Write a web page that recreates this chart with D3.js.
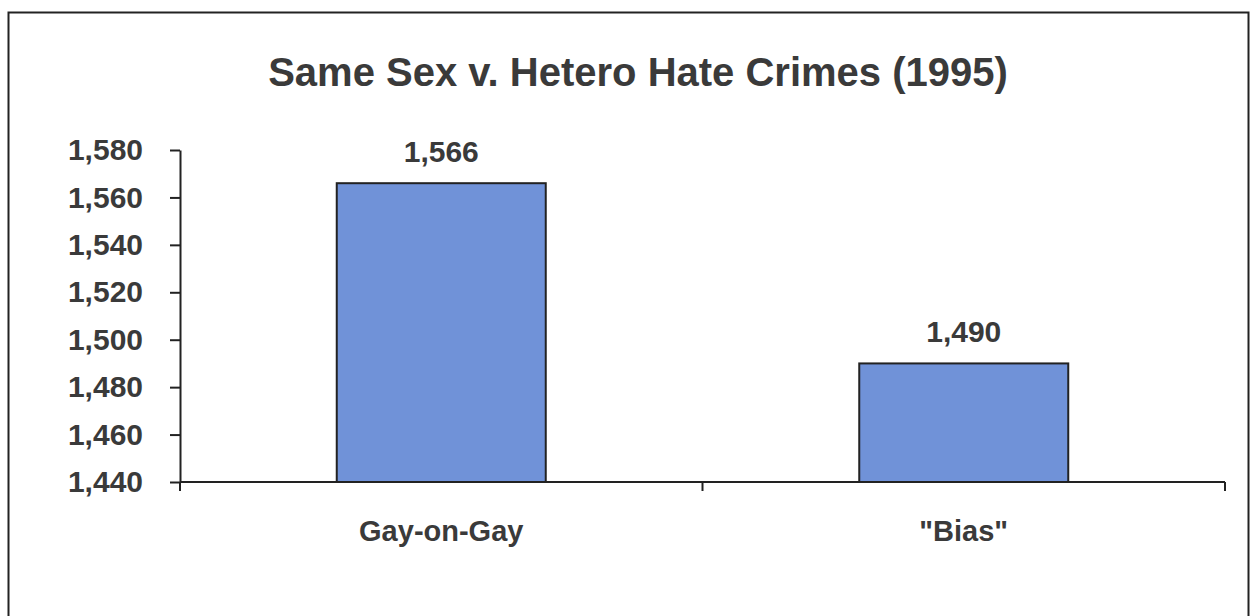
<!DOCTYPE html>
<html><head><meta charset="utf-8">
<script src="https://cdn.jsdelivr.net/npm/d3@7"></script>
<style>body{margin:0;background:#fff}svg{display:block}text{font-family:"Liberation Sans",Arial,sans-serif;font-weight:bold;fill:#3a3a3a}</style>
</head><body><svg id="c" width="1253" height="616"></svg>
<script>
const categories = ["Gay-on-Gay", "\"Bias\""];
const values = [1566, 1490];
const yTicks = [1440, 1460, 1480, 1500, 1520, 1540, 1560, 1580];
const title = "Same Sex v. Hetero Hate Crimes (1995)";

const svg = d3.select("#c");
svg.append("rect").attr("x", 8.5).attr("y", 12.5).attr("width", 1240).attr("height", 620)
  .attr("fill", "none").attr("stroke", "#222").attr("stroke-width", 2);

const x = d3.scaleBand().domain(categories).range([180, 1225]).paddingInner(0.6).paddingOuter(0.3);
const y = d3.scaleLinear().domain([1440, 1580]).range([482, 150]);

svg.append("text").attr("x", 638).attr("y", 86).attr("text-anchor", "middle")
  .style("font-size", "40px").text(title);

const ya = svg.append("g").attr("transform", "translate(180,0)")
  .call(d3.axisLeft(y).tickValues(yTicks).tickFormat(d3.format(",")).tickSize(10).tickSizeOuter(0));
ya.select(".domain").attr("stroke", "#222").attr("stroke-width", 2);
ya.selectAll(".tick line").attr("stroke", "#222").attr("stroke-width", 2);
ya.selectAll(".tick text").attr("x", -37).style("font-size", "30px").attr("fill", "#3a3a3a").style("font-family", null);

svg.selectAll(".bar").data(values).join("rect").attr("class", "bar")
  .attr("x", (d, i) => x(categories[i])).attr("width", x.bandwidth())
  .attr("y", d => y(d)).attr("height", d => y(1440) - y(d))
  .attr("fill", "#7092d8").attr("stroke", "#222").attr("stroke-width", 2);

const xa = svg.append("g").attr("transform", "translate(0,482)");
xa.append("line").attr("x1", 180).attr("x2", 1225).attr("stroke", "#222").attr("stroke-width", 2);
const bounds = [180, 180 + x.step(), 1225];
xa.selectAll(".xt").data(bounds).join("line").attr("x1", d => d).attr("x2", d => d)
  .attr("y1", 0).attr("y2", 9).attr("stroke", "#222").attr("stroke-width", 2);

svg.selectAll(".cl").data(categories).join("text")
  .attr("x", d => x(d) + x.bandwidth() / 2).attr("y", 541).attr("text-anchor", "middle")
  .style("font-size", "29px").text(d => d);

svg.selectAll(".vl").data(values).join("text")
  .attr("x", (d, i) => x(categories[i]) + x.bandwidth() / 2).attr("y", d => y(d) - 21)
  .attr("text-anchor", "middle").style("font-size", "30px").text(d3.format(","));
</script></body></html>
